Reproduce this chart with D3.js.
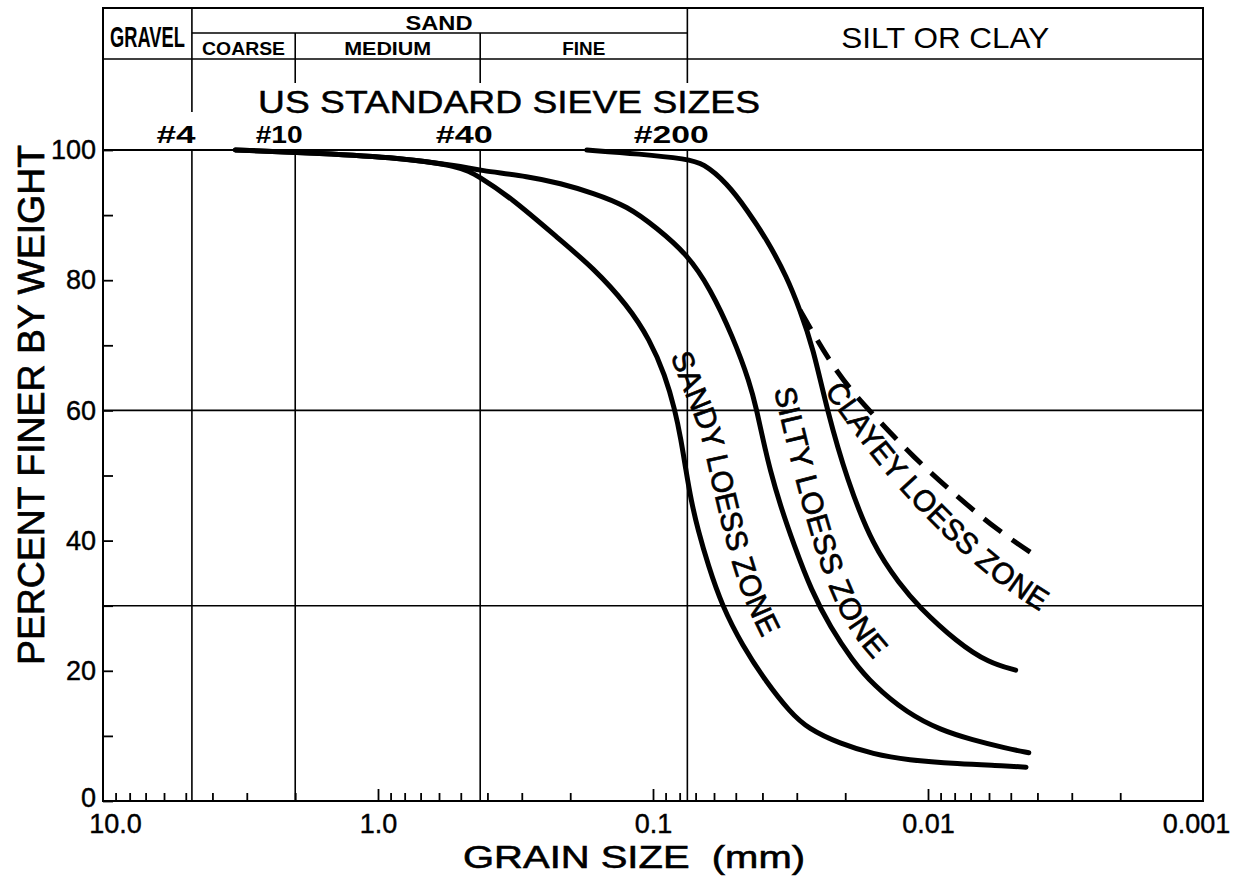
<!DOCTYPE html>
<html>
<head>
<meta charset="utf-8">
<script src="https://cdn.jsdelivr.net/npm/d3@7"></script>
<style>
  body { margin: 0; background: #fff; }
  svg { display: block; }
  text { font-family: "Liberation Sans", Arial, sans-serif; fill: #000; }
</style>
</head>
<body>
<svg width="1239" height="877"></svg>
<script>
// soil classes (upper band of the header)
const classNames = ["GRAVEL", "SAND", "SILT OR CLAY"];
const classBounds = [[10, 4.75], [4.75, 0.075], [0.075, 0.001]];
// sand sub-classes
const sandNames = ["COARSE", "MEDIUM", "FINE"];
const sandBounds = [[4.75, 2.0], [2.0, 0.425], [0.425, 0.075]];

// US standard sieves, opening in mm
const sieveNames = ["#4", "#10", "#40", "#200"];
const sieveSizes = [4.75, 2.0, 0.425, 0.075];

// axes
const xLabelValues = [10, 1, 0.1, 0.01, 0.001];
const xLabelTexts = ["10.0", "1.0", "0.1", "0.01", "0.001"];
const yLabelValues = [0, 20, 40, 60, 80, 100];
const yGridValues = [30, 60];

// grain size (mm) / percent finer
const sandySize = [3.3, 1.62, 0.83, 0.50, 0.433, 0.331, 0.218, 0.165, 0.124, 0.1025, 0.0904, 0.0832, 0.0791, 0.0759,
                   0.0727, 0.0686, 0.0631, 0.0561, 0.0475, 0.0385, 0.0318, 0.0273, 0.0209, 0.0158, 0.0119, 0.0078, 0.0052, 0.0044];
const sandyPct  = [100, 99.5, 98.8, 97.5, 96.0, 92.8, 86.2, 81.9, 76.2, 70.8, 65.4, 60.1, 55.5, 50.8,
                   46.2, 41.6, 36.3, 30.0, 24.0, 18.1, 13.7, 11.1, 8.8, 7.2, 6.3, 5.7, 5.4, 5.2];

const siltySize = [3.3, 1.62, 0.83, 0.50, 0.433, 0.280, 0.218, 0.165, 0.124, 0.0967, 0.0752, 0.0621, 0.0512, 0.0444,
                   0.0419, 0.0398, 0.0375, 0.0345, 0.0307, 0.0266, 0.0226, 0.0189, 0.0158, 0.0119, 0.0090, 0.0069, 0.0052, 0.0043];
const siltyPct  = [100, 99.5, 98.8, 97.5, 96.9, 95.9, 94.9, 93.4, 91.4, 88.0, 84.0, 78.8, 71.3, 64.2,
                   59.9, 55.5, 50.8, 45.5, 39.3, 32.4, 26.6, 21.7, 17.8, 13.5, 10.9, 9.4, 8.1, 7.4];

const clayeySize = [0.174, 0.1115, 0.0752, 0.0658, 0.0538, 0.0455, 0.0385, 0.0326, 0.0292, 0.0262, 0.0233,
                    0.0197, 0.0158, 0.0126, 0.0109, 0.0078, 0.0060, 0.0048];
const clayeyPct  = [100, 99.4, 98.6, 98.0, 94.9, 90.8, 86.2, 80.5, 75.4, 69.7, 60.1,
                    49.3, 39.0, 33.2, 30.0, 24.3, 21.2, 20.1];

// dashed upper limit of the clayey zone
const clayeyTopSize = [0.0292, 0.0214, 0.0158, 0.0113, 0.0078, 0.0056, 0.0040];
const clayeyTopPct  = [75.4, 65.4, 59.3, 52.8, 46.7, 41.6, 37.5];

// zone names and the line (grain size, percent) each name is written along
const zoneNames = ["SANDY LOESS ZONE", "SILTY LOESS ZONE", "CLAYEY LOESS ZONE"];
const zoneLabelSize = [
    [0.0825, 0.0704, 0.0610, 0.0561, 0.0512, 0.0463, 0.0408, 0.0351],
    [0.0340, 0.0312, 0.0285, 0.0258, 0.0231, 0.0200, 0.0169, 0.0137],
    [0.0231, 0.0168, 0.0126, 0.0090, 0.0062, 0.0043, 0.0035]
];
const zoneLabelPct = [
    [70.8, 63.1, 57.0, 49.3, 42.4, 35.5, 29.3, 24.0],
    [65.4, 58.5, 51.6, 44.7, 37.8, 30.9, 25.5, 21.4],
    [65.0, 56.7, 50.1, 43.6, 37.0, 32.1, 29.8]
];

const svg = d3.select("svg");

const area = { left: 103, right: 1203, top: 150, bottom: 801, headTop: 8, rowMid: 33, rowLow: 59, stub: 83 };

const x = d3.scaleLog().domain([10, 0.001]).range([area.left, area.right]);
const y = d3.scaleLinear().domain([0, 100]).range([area.bottom, area.top]);

function hline(x1, x2, yy, w) {
    svg.append("line").attr("x1", x1).attr("x2", x2).attr("y1", yy).attr("y2", yy)
        .attr("stroke", "#000").attr("stroke-width", w);
}
function vline(xx, y1, y2, w) {
    svg.append("line").attr("x1", xx).attr("x2", xx).attr("y1", y1).attr("y2", y2)
        .attr("stroke", "#000").attr("stroke-width", w);
}
function label(txt, cx, base, size, weight, len) {
    const t = svg.append("text").attr("x", cx).attr("y", base)
        .attr("text-anchor", "middle").attr("font-size", size).attr("font-weight", weight)
        .text(txt);
    if (len) t.attr("textLength", len).attr("lengthAdjust", "spacingAndGlyphs");
    return t;
}

// ---- header box ----
svg.append("rect").attr("x", area.left).attr("y", area.headTop)
    .attr("width", area.right - area.left).attr("height", area.top - area.headTop)
    .attr("fill", "none").attr("stroke", "#000").attr("stroke-width", 2);
hline(area.left, area.right, area.rowLow, 1.6);
hline(x(classBounds[1][0]), x(classBounds[1][1]), area.rowMid, 1.6);

vline(x(sieveSizes[0]), area.headTop, 112, 1.6);
vline(x(sieveSizes[3]), area.headTop, area.stub, 1.6);
vline(x(sieveSizes[1]), area.rowMid, area.stub, 1.6);
vline(x(sieveSizes[2]), area.rowMid, area.stub, 1.6);

// GRAVEL is lettered narrow: squeeze it horizontally
svg.append("text")
    .attr("transform", `translate(${(x(classBounds[0][0]) + x(classBounds[0][1])) / 2},47) scale(0.61,1)`)
    .attr("text-anchor", "middle").attr("font-size", 30).attr("font-weight", "bold")
    .text(classNames[0]);
label(classNames[1], 439, 30, 21, "bold", 67);
label(classNames[2], x(Math.sqrt(classBounds[2][0] * classBounds[2][1])), 48, 30, "normal", 208);

const sandLens = [83, 87, 43];
sandNames.forEach((n, i) => {
    const cx = (x(sandBounds[i][0]) + x(sandBounds[i][1])) / 2;
    label(n, cx, 55, 19, "bold", sandLens[i]);
});

label("US STANDARD SIEVE SIZES", 509, 113, 32, "normal", 502)
    .attr("stroke", "#000").attr("stroke-width", 0.5);

const sieveLens = [39, 47, 57, 75];
sieveNames.forEach((n, i) => {
    label(n, x(sieveSizes[i]) - 16, 143, 24, "bold", sieveLens[i]);
});

// ---- plot frame and grid ----
sieveSizes.forEach(s => vline(x(s), area.top, area.bottom, 1.6));
yGridValues.forEach(v => hline(area.left, area.right, y(v), 1.6));

svg.append("rect").attr("x", area.left).attr("y", area.top)
    .attr("width", area.right - area.left).attr("height", area.bottom - area.top)
    .attr("fill", "none").attr("stroke", "#000").attr("stroke-width", 2);

// x ticks (inside, pointing up)
const minorTicks = [];
[1, 0.1, 0.01, 0.001].forEach(dec => {
    for (let k = 2; k <= 9; k++) minorTicks.push(dec * k);
});
const majorTicks = [1, 0.1, 0.01];

function styleAxis(g) {
    g.select(".domain").remove();
    g.selectAll(".tick line").attr("stroke", "#000").attr("stroke-width", 1.8);
}

svg.append("g").attr("transform", `translate(0,${area.bottom})`)
    .call(d3.axisTop(x).tickValues(minorTicks).tickSize(8).tickFormat(""))
    .call(styleAxis);
svg.append("g").attr("transform", `translate(0,${area.bottom})`)
    .call(d3.axisTop(x).tickValues(majorTicks).tickSize(12).tickFormat(""))
    .call(styleAxis);

const xLab = svg.append("g").attr("transform", `translate(0,${area.bottom})`)
    .call(d3.axisBottom(x).tickValues(xLabelValues).tickSize(0).tickPadding(13)
        .tickFormat((d, i) => xLabelTexts[i]));
xLab.select(".domain").remove();
xLab.selectAll("text").attr("font-size", 27).attr("font-family", "Liberation Sans, Arial, sans-serif")
    .attr("stroke", "#000").attr("stroke-width", 0.4)
    .attr("dx", (d, i) => i === 0 ? 12 : (i === 4 ? -7 : 0));

// y ticks (inside, pointing right)
svg.append("g").attr("transform", `translate(${area.left},0)`)
    .call(d3.axisRight(y).tickValues(d3.range(0, 101, 10)).tickSize(10).tickFormat(""))
    .call(styleAxis);

const yLab = svg.append("g").attr("transform", `translate(${area.left},0)`)
    .call(d3.axisLeft(y).tickValues(yLabelValues).tickSize(0).tickPadding(7));
yLab.select(".domain").remove();
yLab.selectAll("text").attr("font-size", 27).attr("font-family", "Liberation Sans, Arial, sans-serif")
    .attr("stroke", "#000").attr("stroke-width", 0.4)
    .attr("dy", d => d === 0 ? "0.2em" : "0.32em");

// axis titles
svg.append("text").attr("x", 634).attr("y", 868).attr("text-anchor", "middle")
    .attr("font-size", 32).attr("xml:space", "preserve")
    .style("white-space", "pre")
    .attr("stroke", "#000").attr("stroke-width", 0.6)
    .attr("textLength", 342).attr("lengthAdjust", "spacingAndGlyphs")
    .text("GRAIN SIZE  (mm)");

svg.append("text").attr("transform", "translate(44,405) rotate(-90)")
    .attr("text-anchor", "middle").attr("font-size", 37)
    .attr("stroke", "#000").attr("stroke-width", 0.7)
    .attr("textLength", 520).attr("lengthAdjust", "spacingAndGlyphs")
    .text("PERCENT FINER BY WEIGHT");

// ---- curves ----
const line = d3.line()
    .x(d => x(d[0]))
    .y(d => y(d[1]))
    .curve(d3.curveBasis);

const curves = [
    { size: sandySize, pct: sandyPct, dash: null },
    { size: siltySize, pct: siltyPct, dash: null },
    { size: clayeySize, pct: clayeyPct, dash: null },
    { size: clayeyTopSize, pct: clayeyTopPct, dash: "22,13" }
];

curves.forEach(c => {
    svg.append("path")
        .datum(d3.zip(c.size, c.pct))
        .attr("d", line)
        .attr("fill", "none")
        .attr("stroke", "#000")
        .attr("stroke-width", 5)
        .attr("stroke-linecap", c.dash ? "butt" : "round")
        .attr("stroke-linejoin", "round")
        .attr("stroke-dasharray", c.dash);
});

// zone labels, written along their guide lines
const defs = svg.append("defs");
const zoneLens = [296, 286, 306];
zoneNames.forEach((n, i) => {
    defs.append("path")
        .attr("id", "zone" + i)
        .datum(d3.zip(zoneLabelSize[i], zoneLabelPct[i]))
        .attr("d", line);
    svg.append("text")
        .attr("font-size", 30)
        .attr("dy", "0.36em")
        .attr("stroke", "#000").attr("stroke-width", 0.7)
        .append("textPath")
        .attr("href", "#zone" + i)
        .attr("startOffset", "50%")
        .attr("text-anchor", "middle")
        .attr("textLength", zoneLens[i]).attr("lengthAdjust", "spacingAndGlyphs")
        .text(n);
});
</script>
</body>
</html>
